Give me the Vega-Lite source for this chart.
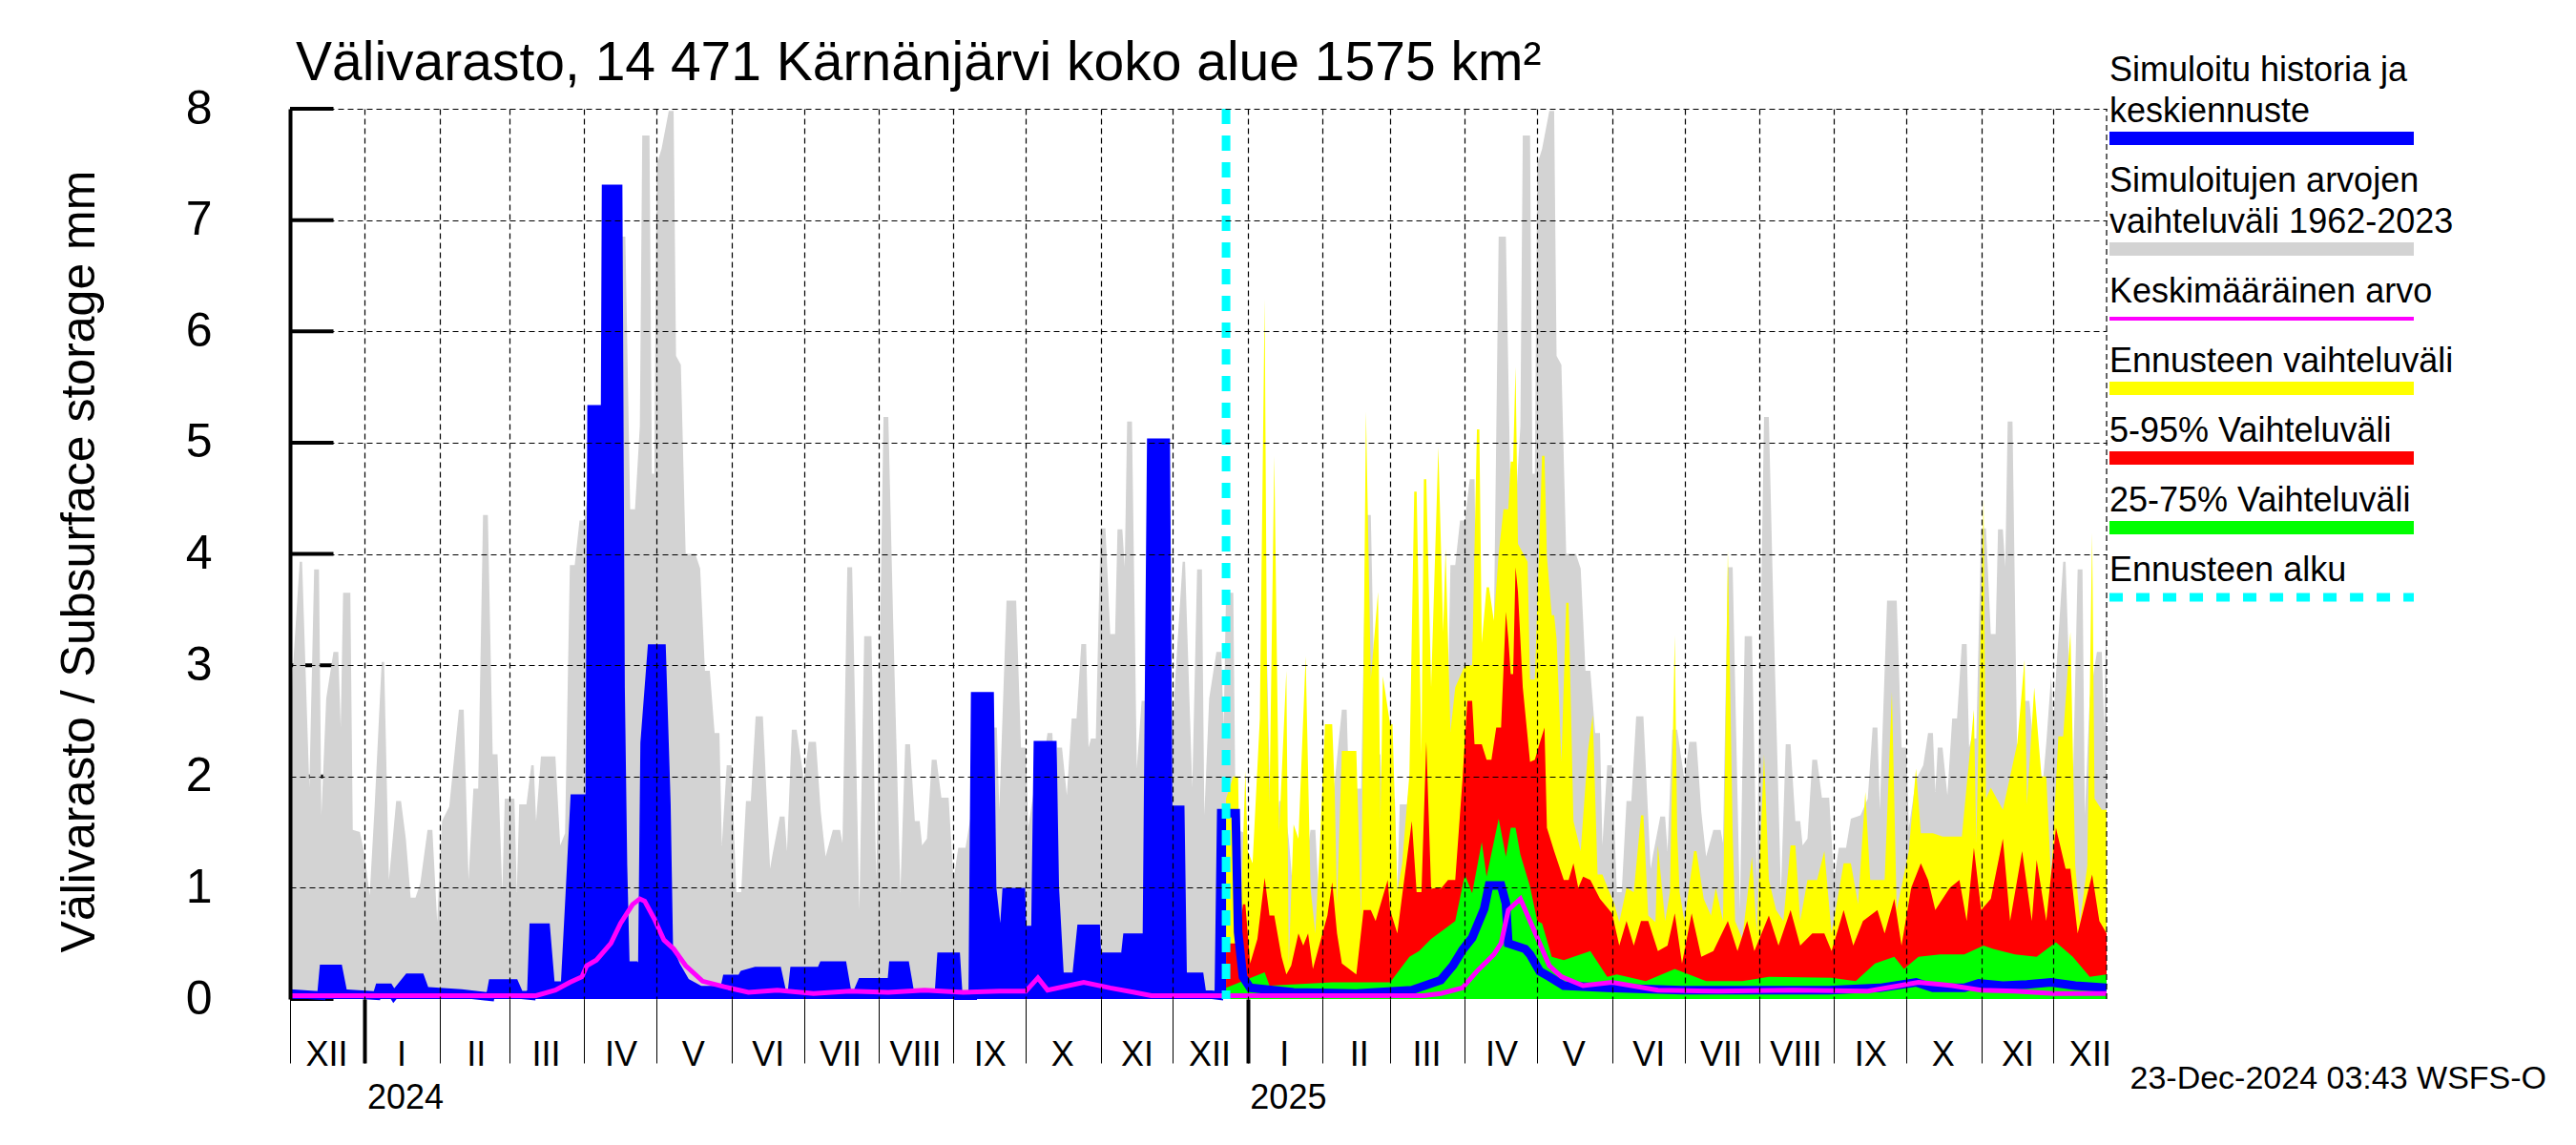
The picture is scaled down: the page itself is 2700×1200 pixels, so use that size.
{
"$schema": "https://vega.github.io/schema/vega-lite/v6.json",
"width": 1904, "height": 933,
"autosize": {"type": "none"},
"padding": {"left": 304, "top": 114, "right": 492, "bottom": 153},
"background": "white",
"title": {"text": "Välivarasto, 14 471 Kärnänjärvi koko alue 1575 km²", "anchor": "start", "frame": "group", "fontSize": 57, "fontWeight": "normal", "font": "Liberation Sans", "color": "black", "baseline": "alphabetic", "dx": 6, "offset": -52},
"config": {"view": {"stroke": null}, "font": "Liberation Sans"},
"datasets": {
"yt": [{"v":0},{"v":1},{"v":2},{"v":3},{"v":4},{"v":5},{"v":6},{"v":7},{"v":8}],
"gray": [
{"d":"2023-12-01","v":2.2},{"d":"2023-12-02","v":2.9},{"d":"2023-12-05","v":3.93},{"d":"2023-12-06","v":3.93},{"d":"2023-12-09","v":1.9},{"d":"2023-12-11","v":3.86},{"d":"2023-12-13","v":3.86},{"d":"2023-12-14","v":1.65},{"d":"2023-12-16","v":2.7},{"d":"2023-12-19","v":3.12},{"d":"2023-12-21","v":3.12},{"d":"2023-12-22","v":2.44},{"d":"2023-12-23","v":3.65},{"d":"2023-12-26","v":3.65},{"d":"2023-12-27","v":1.52},{"d":"2023-12-30","v":1.5},
{"d":"2024-01-01","v":1.28},{"d":"2024-01-03","v":0.93},{"d":"2024-01-05","v":1.7},{"d":"2024-01-08","v":3.03},{"d":"2024-01-09","v":3.03},{"d":"2024-01-11","v":1.07},{"d":"2024-01-14","v":1.78},{"d":"2024-01-16","v":1.78},{"d":"2024-01-18","v":1.44},{"d":"2024-01-20","v":0.91},{"d":"2024-01-22","v":0.91},{"d":"2024-01-24","v":1.04},{"d":"2024-01-27","v":1.52},{"d":"2024-01-29","v":1.52},{"d":"2024-01-31","v":0.69},
{"d":"2024-02-02","v":1.6},{"d":"2024-02-05","v":1.73},{"d":"2024-02-09","v":2.6},{"d":"2024-02-11","v":2.6},{"d":"2024-02-13","v":1.07},{"d":"2024-02-15","v":1.89},{"d":"2024-02-17","v":1.89},{"d":"2024-02-19","v":4.35},{"d":"2024-02-21","v":4.35},{"d":"2024-02-23","v":2.2},{"d":"2024-02-25","v":2.2},{"d":"2024-02-27","v":0.96},{"d":"2024-02-28","v":1.8},
{"d":"2024-03-03","v":1.8},{"d":"2024-03-04","v":0.96},{"d":"2024-03-05","v":1.75},{"d":"2024-03-08","v":1.75},{"d":"2024-03-10","v":2.1},{"d":"2024-03-11","v":2.1},{"d":"2024-03-12","v":1.6},{"d":"2024-03-14","v":2.18},{"d":"2024-03-20","v":2.18},{"d":"2024-03-22","v":1.38},{"d":"2024-03-24","v":1.49},{"d":"2024-03-26","v":3.9},{"d":"2024-03-28","v":3.9},{"d":"2024-03-30","v":4.3},
{"d":"2024-04-01","v":4.3},{"d":"2024-04-03","v":4.67},{"d":"2024-04-05","v":4.67},{"d":"2024-04-06","v":3.1},{"d":"2024-04-09","v":3.1},{"d":"2024-04-10","v":3.3},{"d":"2024-04-13","v":3.3},{"d":"2024-04-15","v":6.85},{"d":"2024-04-18","v":6.85},{"d":"2024-04-20","v":4.4},{"d":"2024-04-22","v":4.4},{"d":"2024-04-24","v":5.15},{"d":"2024-04-25","v":7.76},{"d":"2024-04-28","v":7.76},{"d":"2024-04-29","v":4.72},{"d":"2024-04-30","v":4.72},
{"d":"2024-05-01","v":7.5},{"d":"2024-05-03","v":7.64},{"d":"2024-05-06","v":7.98},{"d":"2024-05-08","v":7.98},{"d":"2024-05-09","v":5.78},{"d":"2024-05-11","v":5.7},{"d":"2024-05-13","v":4.0},{"d":"2024-05-17","v":4.0},{"d":"2024-05-19","v":3.87},{"d":"2024-05-21","v":2.95},{"d":"2024-05-23","v":2.95},{"d":"2024-05-25","v":2.39},{"d":"2024-05-27","v":2.39},{"d":"2024-05-28","v":1.38},{"d":"2024-05-30","v":2.1},
{"d":"2024-06-01","v":2.1},{"d":"2024-06-03","v":0.96},{"d":"2024-06-05","v":0.96},{"d":"2024-06-07","v":1.78},{"d":"2024-06-09","v":1.78},{"d":"2024-06-11","v":2.54},{"d":"2024-06-14","v":2.54},{"d":"2024-06-17","v":1.17},{"d":"2024-06-18","v":1.3},{"d":"2024-06-21","v":1.64},{"d":"2024-06-23","v":1.64},{"d":"2024-06-24","v":1.33},{"d":"2024-06-26","v":2.42},{"d":"2024-06-28","v":2.42},
{"d":"2024-07-01","v":1.97},{"d":"2024-07-03","v":2.31},{"d":"2024-07-06","v":2.31},{"d":"2024-07-08","v":1.68},{"d":"2024-07-10","v":1.28},{"d":"2024-07-13","v":1.52},{"d":"2024-07-16","v":1.52},{"d":"2024-07-17","v":1.4},{"d":"2024-07-19","v":3.88},{"d":"2024-07-21","v":3.88},{"d":"2024-07-24","v":0.8},{"d":"2024-07-26","v":3.26},{"d":"2024-07-29","v":3.26},{"d":"2024-07-31","v":1.07},
{"d":"2024-08-03","v":5.23},{"d":"2024-08-05","v":5.23},{"d":"2024-08-07","v":3.4},{"d":"2024-08-10","v":0.96},{"d":"2024-08-12","v":2.29},{"d":"2024-08-14","v":2.29},{"d":"2024-08-16","v":1.6},{"d":"2024-08-18","v":1.6},{"d":"2024-08-19","v":1.38},{"d":"2024-08-21","v":1.44},{"d":"2024-08-23","v":2.15},{"d":"2024-08-25","v":2.15},{"d":"2024-08-27","v":1.81},{"d":"2024-08-30","v":1.81},
{"d":"2024-09-01","v":1.07},{"d":"2024-09-03","v":1.36},{"d":"2024-09-06","v":1.36},{"d":"2024-09-08","v":1.62},{"d":"2024-09-12","v":1.65},{"d":"2024-09-15","v":1.8},{"d":"2024-09-17","v":2.44},{"d":"2024-09-19","v":2.44},{"d":"2024-09-20","v":1.7},{"d":"2024-09-23","v":3.58},{"d":"2024-09-27","v":3.58},{"d":"2024-09-29","v":2.26},
{"d":"2024-10-01","v":2.26},{"d":"2024-10-02","v":1.54},{"d":"2024-10-05","v":1.97},{"d":"2024-10-08","v":2.1},{"d":"2024-10-10","v":2.39},{"d":"2024-10-12","v":2.39},{"d":"2024-10-13","v":1.86},{"d":"2024-10-14","v":2.26},{"d":"2024-10-16","v":2.26},{"d":"2024-10-18","v":1.83},{"d":"2024-10-20","v":2.52},{"d":"2024-10-22","v":2.52},{"d":"2024-10-24","v":3.19},{"d":"2024-10-26","v":3.19},{"d":"2024-10-27","v":2.26},{"d":"2024-10-28","v":2.34},{"d":"2024-10-30","v":2.34},
{"d":"2024-11-01","v":4.23},{"d":"2024-11-03","v":4.23},{"d":"2024-11-05","v":3.28},{"d":"2024-11-07","v":3.28},{"d":"2024-11-08","v":4.22},{"d":"2024-11-10","v":4.22},{"d":"2024-11-11","v":3.88},{"d":"2024-11-12","v":5.19},{"d":"2024-11-14","v":5.19},{"d":"2024-11-16","v":2.07},{"d":"2024-11-18","v":2.68},{"d":"2024-11-21","v":2.68},{"d":"2024-11-23","v":2.2},{"d":"2024-11-26","v":1.8},{"d":"2024-11-28","v":2.3},{"d":"2024-11-30","v":2.9},
{"d":"2024-12-01","v":2.5},{"d":"2024-12-02","v":2.9},{"d":"2024-12-05","v":3.93},{"d":"2024-12-06","v":3.93},{"d":"2024-12-09","v":1.9},{"d":"2024-12-11","v":3.86},{"d":"2024-12-13","v":3.86},{"d":"2024-12-14","v":1.65},{"d":"2024-12-16","v":2.7},{"d":"2024-12-19","v":3.12},{"d":"2024-12-21","v":3.12},{"d":"2024-12-22","v":2.44},{"d":"2024-12-23","v":3.65},{"d":"2024-12-26","v":3.65},{"d":"2024-12-27","v":1.52},{"d":"2024-12-30","v":1.5},
{"d":"2025-01-01","v":1.28},{"d":"2025-01-03","v":0.93},{"d":"2025-01-05","v":1.7},{"d":"2025-01-08","v":3.03},{"d":"2025-01-09","v":3.03},{"d":"2025-01-11","v":1.07},{"d":"2025-01-14","v":1.78},{"d":"2025-01-16","v":1.78},{"d":"2025-01-18","v":1.44},{"d":"2025-01-20","v":0.91},{"d":"2025-01-22","v":0.91},{"d":"2025-01-24","v":1.04},{"d":"2025-01-27","v":1.52},{"d":"2025-01-29","v":1.52},{"d":"2025-01-31","v":0.69},
{"d":"2025-02-02","v":1.6},{"d":"2025-02-05","v":1.73},{"d":"2025-02-09","v":2.6},{"d":"2025-02-11","v":2.6},{"d":"2025-02-13","v":1.07},{"d":"2025-02-15","v":1.89},{"d":"2025-02-17","v":1.89},{"d":"2025-02-19","v":4.35},{"d":"2025-02-21","v":4.35},{"d":"2025-02-23","v":2.2},{"d":"2025-02-25","v":2.2},{"d":"2025-02-27","v":0.96},{"d":"2025-02-28","v":1.8},
{"d":"2025-03-03","v":1.8},{"d":"2025-03-04","v":0.96},{"d":"2025-03-05","v":1.75},{"d":"2025-03-08","v":1.75},{"d":"2025-03-10","v":2.1},{"d":"2025-03-11","v":2.1},{"d":"2025-03-12","v":1.6},{"d":"2025-03-14","v":2.18},{"d":"2025-03-20","v":2.18},{"d":"2025-03-22","v":1.38},{"d":"2025-03-24","v":1.49},{"d":"2025-03-26","v":3.9},{"d":"2025-03-28","v":3.9},{"d":"2025-03-30","v":4.3},
{"d":"2025-04-01","v":4.3},{"d":"2025-04-03","v":4.67},{"d":"2025-04-05","v":4.67},{"d":"2025-04-06","v":3.1},{"d":"2025-04-09","v":3.1},{"d":"2025-04-10","v":3.3},{"d":"2025-04-13","v":3.3},{"d":"2025-04-15","v":6.85},{"d":"2025-04-18","v":6.85},{"d":"2025-04-20","v":4.4},{"d":"2025-04-22","v":4.4},{"d":"2025-04-24","v":5.15},{"d":"2025-04-25","v":7.76},{"d":"2025-04-28","v":7.76},{"d":"2025-04-29","v":4.72},{"d":"2025-04-30","v":4.72},
{"d":"2025-05-01","v":7.5},{"d":"2025-05-03","v":7.64},{"d":"2025-05-06","v":7.98},{"d":"2025-05-08","v":7.98},{"d":"2025-05-09","v":5.78},{"d":"2025-05-11","v":5.7},{"d":"2025-05-13","v":4.0},{"d":"2025-05-17","v":4.0},{"d":"2025-05-19","v":3.87},{"d":"2025-05-21","v":2.95},{"d":"2025-05-23","v":2.95},{"d":"2025-05-25","v":2.39},{"d":"2025-05-27","v":2.39},{"d":"2025-05-28","v":1.38},{"d":"2025-05-30","v":2.1},
{"d":"2025-06-01","v":2.1},{"d":"2025-06-03","v":0.96},{"d":"2025-06-05","v":0.96},{"d":"2025-06-07","v":1.78},{"d":"2025-06-09","v":1.78},{"d":"2025-06-11","v":2.54},{"d":"2025-06-14","v":2.54},{"d":"2025-06-17","v":1.17},{"d":"2025-06-18","v":1.3},{"d":"2025-06-21","v":1.64},{"d":"2025-06-23","v":1.64},{"d":"2025-06-24","v":1.33},{"d":"2025-06-26","v":2.42},{"d":"2025-06-28","v":2.42},
{"d":"2025-07-01","v":1.97},{"d":"2025-07-03","v":2.31},{"d":"2025-07-06","v":2.31},{"d":"2025-07-08","v":1.68},{"d":"2025-07-10","v":1.28},{"d":"2025-07-13","v":1.52},{"d":"2025-07-16","v":1.52},{"d":"2025-07-17","v":1.4},{"d":"2025-07-19","v":3.88},{"d":"2025-07-21","v":3.88},{"d":"2025-07-24","v":0.8},{"d":"2025-07-26","v":3.26},{"d":"2025-07-29","v":3.26},{"d":"2025-07-31","v":1.07},
{"d":"2025-08-03","v":5.23},{"d":"2025-08-05","v":5.23},{"d":"2025-08-07","v":3.4},{"d":"2025-08-10","v":0.96},{"d":"2025-08-12","v":2.29},{"d":"2025-08-14","v":2.29},{"d":"2025-08-16","v":1.6},{"d":"2025-08-18","v":1.6},{"d":"2025-08-19","v":1.38},{"d":"2025-08-21","v":1.44},{"d":"2025-08-23","v":2.15},{"d":"2025-08-25","v":2.15},{"d":"2025-08-27","v":1.81},{"d":"2025-08-30","v":1.81},
{"d":"2025-09-01","v":1.07},{"d":"2025-09-03","v":1.36},{"d":"2025-09-06","v":1.36},{"d":"2025-09-08","v":1.62},{"d":"2025-09-12","v":1.65},{"d":"2025-09-15","v":1.8},{"d":"2025-09-17","v":2.44},{"d":"2025-09-19","v":2.44},{"d":"2025-09-20","v":1.7},{"d":"2025-09-23","v":3.58},{"d":"2025-09-27","v":3.58},{"d":"2025-09-29","v":2.26},
{"d":"2025-10-01","v":2.26},{"d":"2025-10-02","v":1.54},{"d":"2025-10-05","v":1.97},{"d":"2025-10-08","v":2.1},{"d":"2025-10-10","v":2.39},{"d":"2025-10-12","v":2.39},{"d":"2025-10-13","v":1.86},{"d":"2025-10-14","v":2.26},{"d":"2025-10-16","v":2.26},{"d":"2025-10-18","v":1.83},{"d":"2025-10-20","v":2.52},{"d":"2025-10-22","v":2.52},{"d":"2025-10-24","v":3.19},{"d":"2025-10-26","v":3.19},{"d":"2025-10-27","v":2.26},{"d":"2025-10-28","v":2.34},{"d":"2025-10-30","v":2.34},
{"d":"2025-11-01","v":4.23},{"d":"2025-11-03","v":4.23},{"d":"2025-11-05","v":3.28},{"d":"2025-11-07","v":3.28},{"d":"2025-11-08","v":4.22},{"d":"2025-11-10","v":4.22},{"d":"2025-11-11","v":3.88},{"d":"2025-11-12","v":5.19},{"d":"2025-11-14","v":5.19},{"d":"2025-11-16","v":2.07},{"d":"2025-11-18","v":2.68},{"d":"2025-11-21","v":2.68},{"d":"2025-11-23","v":2.2},{"d":"2025-11-26","v":1.8},{"d":"2025-11-28","v":2.3},{"d":"2025-11-30","v":2.9},
{"d":"2025-12-01","v":2.5},{"d":"2025-12-02","v":2.9},{"d":"2025-12-05","v":3.93},{"d":"2025-12-06","v":3.93},{"d":"2025-12-09","v":1.9},{"d":"2025-12-11","v":3.86},{"d":"2025-12-13","v":3.86},{"d":"2025-12-14","v":1.65},{"d":"2025-12-16","v":2.7},{"d":"2025-12-19","v":3.12},{"d":"2025-12-21","v":3.12},{"d":"2025-12-22","v":2.44},{"d":"2025-12-23","v":3.65}
],
"yel": [
{"d":"2024-12-23","v":1.8},{"d":"2024-12-26","v":2.0},{"d":"2024-12-28","v":2.0},{"d":"2024-12-29","v":0.7},{"d":"2024-12-31","v":2.05},
{"d":"2025-01-01","v":1.33},{"d":"2025-01-03","v":1.22},{"d":"2025-01-06","v":2.52},{"d":"2025-01-08","v":6.29},{"d":"2025-01-09","v":2.8},{"d":"2025-01-10","v":1.75},{"d":"2025-01-12","v":4.88},{"d":"2025-01-14","v":1.5},{"d":"2025-01-17","v":2.95},{"d":"2025-01-18","v":0.32},{"d":"2025-01-20","v":1.57},{"d":"2025-01-22","v":1.44},{"d":"2025-01-25","v":3.08},{"d":"2025-01-27","v":1.0},{"d":"2025-01-29","v":0.59},{"d":"2025-01-31","v":1.44},
{"d":"2025-02-02","v":2.47},{"d":"2025-02-05","v":2.47},{"d":"2025-02-06","v":1.9},{"d":"2025-02-07","v":0.85},{"d":"2025-02-09","v":2.23},{"d":"2025-02-15","v":2.23},{"d":"2025-02-17","v":0.7},{"d":"2025-02-19","v":5.28},{"d":"2025-02-21","v":2.87},{"d":"2025-02-24","v":3.66},{"d":"2025-02-25","v":1.6},{"d":"2025-02-26","v":2.9},
{"d":"2025-03-01","v":2.47},{"d":"2025-03-02","v":2.47},{"d":"2025-03-04","v":0.96},{"d":"2025-03-06","v":1.22},{"d":"2025-03-09","v":2.02},{"d":"2025-03-11","v":4.56},{"d":"2025-03-12","v":4.56},{"d":"2025-03-14","v":2.2},{"d":"2025-03-15","v":4.67},{"d":"2025-03-16","v":4.67},{"d":"2025-03-18","v":2.8},{"d":"2025-03-21","v":4.96},{"d":"2025-03-23","v":3.3},{"d":"2025-03-24","v":4.05},{"d":"2025-03-26","v":2.4},{"d":"2025-03-28","v":2.8},
{"d":"2025-04-01","v":3.0},{"d":"2025-04-04","v":3.0},{"d":"2025-04-06","v":5.12},{"d":"2025-04-07","v":5.12},{"d":"2025-04-08","v":3.2},{"d":"2025-04-10","v":3.7},{"d":"2025-04-11","v":3.7},{"d":"2025-04-13","v":3.4},{"d":"2025-04-15","v":4.0},{"d":"2025-04-17","v":4.4},{"d":"2025-04-19","v":4.4},{"d":"2025-04-20","v":4.83},{"d":"2025-04-21","v":4.83},{"d":"2025-04-22","v":5.68},{"d":"2025-04-23","v":4.09},{"d":"2025-04-27","v":3.93},{"d":"2025-04-28","v":2.87},{"d":"2025-04-30","v":2.87},
{"d":"2025-05-03","v":4.88},{"d":"2025-05-04","v":4.88},{"d":"2025-05-05","v":3.98},{"d":"2025-05-07","v":3.45},{"d":"2025-05-08","v":3.45},{"d":"2025-05-09","v":3.24},{"d":"2025-05-11","v":2.13},{"d":"2025-05-13","v":3.56},{"d":"2025-05-14","v":3.56},{"d":"2025-05-16","v":1.6},{"d":"2025-05-19","v":1.33},{"d":"2025-05-22","v":2.23},{"d":"2025-05-24","v":2.55},{"d":"2025-05-26","v":1.12},{"d":"2025-05-28","v":1.12},{"d":"2025-05-30","v":1.01},
{"d":"2025-06-02","v":0.85},{"d":"2025-06-04","v":0.69},{"d":"2025-06-07","v":1.0},{"d":"2025-06-10","v":0.96},{"d":"2025-06-13","v":1.65},{"d":"2025-06-14","v":1.65},{"d":"2025-06-16","v":0.75},{"d":"2025-06-19","v":0.69},{"d":"2025-06-20","v":1.38},{"d":"2025-06-23","v":0.7},{"d":"2025-06-25","v":0.96},{"d":"2025-06-27","v":3.27},{"d":"2025-06-28","v":1.5},{"d":"2025-06-29","v":0.96},
{"d":"2025-07-01","v":0.7},{"d":"2025-07-05","v":1.33},{"d":"2025-07-06","v":1.33},{"d":"2025-07-09","v":0.9},{"d":"2025-07-12","v":0.75},{"d":"2025-07-14","v":1.0},{"d":"2025-07-17","v":0.7},{"d":"2025-07-19","v":4.03},{"d":"2025-07-21","v":1.5},{"d":"2025-07-22","v":0.7},{"d":"2025-07-25","v":0.54},{"d":"2025-07-29","v":1.28},{"d":"2025-07-31","v":0.59},
{"d":"2025-08-03","v":2.2},{"d":"2025-08-05","v":1.07},{"d":"2025-08-08","v":0.8},{"d":"2025-08-11","v":0.7},{"d":"2025-08-14","v":1.38},{"d":"2025-08-16","v":1.38},{"d":"2025-08-18","v":0.7},{"d":"2025-08-21","v":1.07},{"d":"2025-08-25","v":1.07},{"d":"2025-08-28","v":1.33},{"d":"2025-08-31","v":0.59},
{"d":"2025-09-05","v":1.22},{"d":"2025-09-08","v":1.22},{"d":"2025-09-11","v":0.85},{"d":"2025-09-14","v":1.86},{"d":"2025-09-16","v":1.07},{"d":"2025-09-22","v":1.07},{"d":"2025-09-25","v":2.76},{"d":"2025-09-27","v":0.8},
{"d":"2025-10-02","v":1.33},{"d":"2025-10-05","v":2.07},{"d":"2025-10-07","v":1.49},{"d":"2025-10-12","v":1.49},{"d":"2025-10-16","v":1.46},{"d":"2025-10-24","v":1.46},{"d":"2025-10-29","v":2.6},{"d":"2025-10-30","v":1.4},
{"d":"2025-11-02","v":4.5},{"d":"2025-11-03","v":1.8},{"d":"2025-11-05","v":1.9},{"d":"2025-11-10","v":1.7},{"d":"2025-11-16","v":2.3},{"d":"2025-11-19","v":3.05},{"d":"2025-11-20","v":1.75},{"d":"2025-11-23","v":2.8},{"d":"2025-11-26","v":2.0},{"d":"2025-11-28","v":2.0},{"d":"2025-11-30","v":1.07},
{"d":"2025-12-03","v":2.36},{"d":"2025-12-05","v":2.36},{"d":"2025-12-08","v":3.3},{"d":"2025-12-10","v":1.2},{"d":"2025-12-12","v":0.69},{"d":"2025-12-15","v":1.2},{"d":"2025-12-17","v":4.19},{"d":"2025-12-18","v":1.8},{"d":"2025-12-21","v":1.7},{"d":"2025-12-23","v":1.7}
],
"red": [
{"d":"2024-12-23","v":0.5},{"d":"2024-12-28","v":0.5},{"d":"2024-12-30","v":0.85},{"d":"2024-12-31","v":0.85},
{"d":"2025-01-02","v":0.32},{"d":"2025-01-05","v":0.54},{"d":"2025-01-08","v":1.09},{"d":"2025-01-10","v":0.75},{"d":"2025-01-12","v":0.75},{"d":"2025-01-15","v":0.38},{"d":"2025-01-17","v":0.22},{"d":"2025-01-19","v":0.3},{"d":"2025-01-22","v":0.59},{"d":"2025-01-24","v":0.48},{"d":"2025-01-26","v":0.59},{"d":"2025-01-28","v":0.27},{"d":"2025-01-30","v":0.43},
{"d":"2025-02-03","v":0.75},{"d":"2025-02-05","v":1.05},{"d":"2025-02-07","v":0.59},{"d":"2025-02-09","v":0.32},{"d":"2025-02-12","v":0.27},{"d":"2025-02-15","v":0.22},{"d":"2025-02-18","v":0.8},{"d":"2025-02-21","v":0.8},{"d":"2025-02-23","v":0.7},{"d":"2025-02-28","v":1.07},
{"d":"2025-03-01","v":0.8},{"d":"2025-03-04","v":0.59},{"d":"2025-03-06","v":0.93},{"d":"2025-03-10","v":1.6},{"d":"2025-03-12","v":0.96},{"d":"2025-03-14","v":0.96},{"d":"2025-03-16","v":2.31},{"d":"2025-03-18","v":0.99},{"d":"2025-03-20","v":1.0},{"d":"2025-03-22","v":0.99},{"d":"2025-03-25","v":1.07},{"d":"2025-03-28","v":1.07},{"d":"2025-03-31","v":1.97},
{"d":"2025-04-02","v":2.68},{"d":"2025-04-04","v":2.68},{"d":"2025-04-05","v":2.29},{"d":"2025-04-08","v":2.29},{"d":"2025-04-10","v":2.15},{"d":"2025-04-12","v":2.15},{"d":"2025-04-14","v":2.44},{"d":"2025-04-16","v":2.44},{"d":"2025-04-18","v":3.48},{"d":"2025-04-19","v":3.24},{"d":"2025-04-20","v":2.92},{"d":"2025-04-21","v":2.92},{"d":"2025-04-22","v":3.88},{"d":"2025-04-23","v":3.66},{"d":"2025-04-25","v":2.8},{"d":"2025-04-28","v":2.13},{"d":"2025-04-30","v":2.15},
{"d":"2025-05-02","v":2.3},{"d":"2025-05-04","v":2.44},{"d":"2025-05-05","v":1.54},{"d":"2025-05-08","v":1.33},{"d":"2025-05-12","v":1.07},{"d":"2025-05-14","v":1.07},{"d":"2025-05-16","v":1.22},{"d":"2025-05-18","v":1.0},{"d":"2025-05-20","v":1.1},{"d":"2025-05-23","v":1.07},{"d":"2025-05-27","v":0.9},
{"d":"2025-06-01","v":0.77},{"d":"2025-06-04","v":0.48},{"d":"2025-06-07","v":0.7},{"d":"2025-06-10","v":0.48},{"d":"2025-06-13","v":0.7},{"d":"2025-06-16","v":0.7},{"d":"2025-06-20","v":0.43},{"d":"2025-06-24","v":0.48},{"d":"2025-06-27","v":0.77},{"d":"2025-06-30","v":0.32},
{"d":"2025-07-04","v":0.77},{"d":"2025-07-08","v":0.38},{"d":"2025-07-13","v":0.43},{"d":"2025-07-19","v":0.7},{"d":"2025-07-23","v":0.43},{"d":"2025-07-27","v":0.7},{"d":"2025-07-30","v":0.43},
{"d":"2025-08-05","v":0.75},{"d":"2025-08-09","v":0.48},{"d":"2025-08-14","v":0.8},{"d":"2025-08-18","v":0.48},{"d":"2025-08-23","v":0.59},{"d":"2025-08-28","v":0.59},{"d":"2025-08-31","v":0.43},
{"d":"2025-09-05","v":0.8},{"d":"2025-09-09","v":0.48},{"d":"2025-09-13","v":0.7},{"d":"2025-09-19","v":0.8},{"d":"2025-09-22","v":0.59},{"d":"2025-09-26","v":0.9},{"d":"2025-09-29","v":0.48},
{"d":"2025-10-03","v":1.0},{"d":"2025-10-07","v":1.22},{"d":"2025-10-10","v":1.07},{"d":"2025-10-13","v":0.8},{"d":"2025-10-19","v":1.0},{"d":"2025-10-23","v":1.07},{"d":"2025-10-26","v":0.7},{"d":"2025-10-29","v":1.36},
{"d":"2025-11-01","v":0.8},{"d":"2025-11-05","v":0.9},{"d":"2025-11-10","v":1.44},{"d":"2025-11-13","v":0.7},{"d":"2025-11-18","v":1.33},{"d":"2025-11-22","v":0.7},{"d":"2025-11-24","v":1.25},{"d":"2025-11-28","v":0.7},
{"d":"2025-12-02","v":1.54},{"d":"2025-12-06","v":1.17},{"d":"2025-12-08","v":1.17},{"d":"2025-12-11","v":0.59},{"d":"2025-12-17","v":1.12},{"d":"2025-12-20","v":0.7},{"d":"2025-12-23","v":0.59}
],
"grn": [
{"d":"2024-12-23","v":0.1},{"d":"2025-01-08","v":0.24},{"d":"2025-01-10","v":0.12},{"d":"2025-02-05","v":0.15},{"d":"2025-03-01","v":0.15},{"d":"2025-03-09","v":0.38},{"d":"2025-03-13","v":0.43},{"d":"2025-03-18","v":0.54},{"d":"2025-03-23","v":0.62},{"d":"2025-03-28","v":0.7},
{"d":"2025-04-01","v":1.12},{"d":"2025-04-04","v":0.95},{"d":"2025-04-08","v":1.41},{"d":"2025-04-10","v":1.1},{"d":"2025-04-15","v":1.62},{"d":"2025-04-18","v":1.28},{"d":"2025-04-20","v":1.54},{"d":"2025-04-22","v":1.54},{"d":"2025-04-24","v":1.3},{"d":"2025-04-28","v":1.01},
{"d":"2025-05-01","v":0.7},{"d":"2025-05-03","v":0.68},{"d":"2025-05-07","v":0.38},{"d":"2025-05-12","v":0.35},{"d":"2025-05-23","v":0.43},{"d":"2025-05-30","v":0.2},{"d":"2025-06-03","v":0.22},{"d":"2025-06-15","v":0.16},{"d":"2025-06-27","v":0.27},{"d":"2025-07-10","v":0.16},{"d":"2025-07-25","v":0.16},{"d":"2025-08-05","v":0.2},{"d":"2025-08-31","v":0.19},
{"d":"2025-09-10","v":0.16},{"d":"2025-09-18","v":0.32},{"d":"2025-09-26","v":0.38},{"d":"2025-09-30","v":0.27},{"d":"2025-10-06","v":0.38},{"d":"2025-10-15","v":0.4},{"d":"2025-10-25","v":0.4},{"d":"2025-11-02","v":0.48},{"d":"2025-11-06","v":0.45},{"d":"2025-11-15","v":0.4},{"d":"2025-11-24","v":0.38},{"d":"2025-12-02","v":0.51},{"d":"2025-12-09","v":0.38},{"d":"2025-12-16","v":0.2},{"d":"2025-12-23","v":0.22}
],
"blueh": [
{"d":"2023-12-01","v":0.05},{"d":"2023-12-14","v":0.03},{"d":"2023-12-15","v":0.27},{"d":"2023-12-21","v":0.27},{"d":"2023-12-23","v":0.05},
{"d":"2024-01-06","v":0.03},{"d":"2024-01-07","v":0.1},{"d":"2024-01-11","v":0.1},{"d":"2024-01-13","v":0.03},{"d":"2024-01-19","v":0.19},{"d":"2024-01-24","v":0.19},{"d":"2024-01-26","v":0.07},{"d":"2024-02-10","v":0.05},{"d":"2024-02-22","v":0.02},{"d":"2024-02-23","v":0.14},{"d":"2024-03-03","v":0.14},{"d":"2024-03-05","v":0.04},{"d":"2024-03-10","v":0.03},{"d":"2024-03-11","v":0.64},{"d":"2024-03-16","v":0.64},{"d":"2024-03-18","v":0.12},{"d":"2024-03-24","v":0.12},{"d":"2024-03-26","v":0.95},{"d":"2024-03-28","v":1.8},{"d":"2024-04-02","v":1.8},{"d":"2024-04-03","v":0.6},
{"d":"2024-04-04","v":5.3},{"d":"2024-04-08","v":5.3},{"d":"2024-04-09","v":2.2},{"d":"2024-04-10","v":7.28},{"d":"2024-04-15","v":7.28},{"d":"2024-04-16","v":2.8},{"d":"2024-04-17","v":1.2},{"d":"2024-04-18","v":0.3},{"d":"2024-04-22","v":0.3},{"d":"2024-04-25","v":0.2},{"d":"2024-04-26","v":2.3},{"d":"2024-04-29","v":3.15},{"d":"2024-05-03","v":3.15},{"d":"2024-05-05","v":1.75},{"d":"2024-05-06","v":0.45},{"d":"2024-05-09","v":0.3},{"d":"2024-05-13","v":0.15},{"d":"2024-05-19","v":0.08},{"d":"2024-05-29","v":0.08},
{"d":"2024-05-30","v":0.18},{"d":"2024-06-05","v":0.18},{"d":"2024-06-06","v":0.22},{"d":"2024-06-11","v":0.25},{"d":"2024-06-20","v":0.25},{"d":"2024-06-22","v":0.05},{"d":"2024-06-26","v":0.05},{"d":"2024-06-27","v":0.25},{"d":"2024-07-08","v":0.25},{"d":"2024-07-09","v":0.3},{"d":"2024-07-17","v":0.3},{"d":"2024-07-19","v":0.05},{"d":"2024-07-23","v":0.05},{"d":"2024-07-25","v":0.15},{"d":"2024-08-04","v":0.15},{"d":"2024-08-06","v":0.05},{"d":"2024-08-07","v":0.3},{"d":"2024-08-12","v":0.3},{"d":"2024-08-14","v":0.05},{"d":"2024-08-26","v":0.05},{"d":"2024-08-27","v":0.38},{"d":"2024-09-02","v":0.38},{"d":"2024-09-03","v":0.03},{"d":"2024-09-09","v":0.03},
{"d":"2024-09-10","v":2.72},{"d":"2024-09-16","v":2.72},{"d":"2024-09-17","v":1.0},{"d":"2024-09-19","v":0.61},{"d":"2024-09-22","v":0.61},{"d":"2024-09-23","v":0.96},{"d":"2024-09-29","v":0.96},{"d":"2024-09-30","v":0.1},{"d":"2024-10-01","v":0.1},{"d":"2024-10-02","v":0.62},{"d":"2024-10-05","v":0.62},{"d":"2024-10-06","v":2.28},{"d":"2024-10-12","v":2.28},{"d":"2024-10-13","v":1.0},{"d":"2024-10-15","v":0.2},{"d":"2024-10-22","v":0.2},{"d":"2024-10-24","v":0.63},{"d":"2024-10-30","v":0.63},{"d":"2024-10-31","v":0.1},
{"d":"2024-11-02","v":0.38},{"d":"2024-11-08","v":0.38},{"d":"2024-11-10","v":0.15},{"d":"2024-11-12","v":0.55},{"d":"2024-11-18","v":0.55},{"d":"2024-11-20","v":0.05},{"d":"2024-11-22","v":5.0},{"d":"2024-11-28","v":5.0},{"d":"2024-11-29","v":1.7},{"d":"2024-12-04","v":1.7},{"d":"2024-12-05","v":0.2},{"d":"2024-12-12","v":0.2},{"d":"2024-12-13","v":0.05},{"d":"2024-12-20","v":0.03},{"d":"2024-12-21","v":1.67},{"d":"2024-12-23","v":1.67}
],
"blue": [
{"d":"2023-12-01","v":0.05},{"d":"2023-12-14","v":0.03},{"d":"2023-12-15","v":0.27},{"d":"2023-12-21","v":0.27},{"d":"2023-12-23","v":0.05},
{"d":"2024-01-06","v":0.03},{"d":"2024-01-07","v":0.1},{"d":"2024-01-11","v":0.1},{"d":"2024-01-13","v":0.03},{"d":"2024-01-19","v":0.19},{"d":"2024-01-24","v":0.19},{"d":"2024-01-26","v":0.07},{"d":"2024-02-10","v":0.05},{"d":"2024-02-22","v":0.02},{"d":"2024-02-23","v":0.14},{"d":"2024-03-03","v":0.14},{"d":"2024-03-05","v":0.04},{"d":"2024-03-10","v":0.03},{"d":"2024-03-11","v":0.64},{"d":"2024-03-16","v":0.64},{"d":"2024-03-18","v":0.12},{"d":"2024-03-24","v":0.12},{"d":"2024-03-26","v":0.95},{"d":"2024-03-28","v":1.8},{"d":"2024-04-02","v":1.8},{"d":"2024-04-03","v":0.6},
{"d":"2024-04-04","v":5.3},{"d":"2024-04-08","v":5.3},{"d":"2024-04-09","v":2.2},{"d":"2024-04-10","v":7.28},{"d":"2024-04-15","v":7.28},{"d":"2024-04-16","v":2.8},{"d":"2024-04-17","v":1.2},{"d":"2024-04-18","v":0.3},{"d":"2024-04-22","v":0.3},{"d":"2024-04-25","v":0.2},{"d":"2024-04-26","v":2.3},{"d":"2024-04-29","v":3.15},{"d":"2024-05-03","v":3.15},{"d":"2024-05-05","v":1.75},{"d":"2024-05-06","v":0.45},{"d":"2024-05-09","v":0.3},{"d":"2024-05-13","v":0.15},{"d":"2024-05-19","v":0.08},{"d":"2024-05-29","v":0.08},
{"d":"2024-05-30","v":0.18},{"d":"2024-06-05","v":0.18},{"d":"2024-06-06","v":0.22},{"d":"2024-06-11","v":0.25},{"d":"2024-06-20","v":0.25},{"d":"2024-06-22","v":0.05},{"d":"2024-06-26","v":0.05},{"d":"2024-06-27","v":0.25},{"d":"2024-07-08","v":0.25},{"d":"2024-07-09","v":0.3},{"d":"2024-07-17","v":0.3},{"d":"2024-07-19","v":0.05},{"d":"2024-07-23","v":0.05},{"d":"2024-07-25","v":0.15},{"d":"2024-08-04","v":0.15},{"d":"2024-08-06","v":0.05},{"d":"2024-08-07","v":0.3},{"d":"2024-08-12","v":0.3},{"d":"2024-08-14","v":0.05},{"d":"2024-08-26","v":0.05},{"d":"2024-08-27","v":0.38},{"d":"2024-09-02","v":0.38},{"d":"2024-09-03","v":0.03},{"d":"2024-09-09","v":0.03},
{"d":"2024-09-10","v":2.72},{"d":"2024-09-16","v":2.72},{"d":"2024-09-17","v":1.0},{"d":"2024-09-19","v":0.61},{"d":"2024-09-22","v":0.61},{"d":"2024-09-23","v":0.96},{"d":"2024-09-29","v":0.96},{"d":"2024-09-30","v":0.1},{"d":"2024-10-01","v":0.1},{"d":"2024-10-02","v":0.62},{"d":"2024-10-05","v":0.62},{"d":"2024-10-06","v":2.28},{"d":"2024-10-12","v":2.28},{"d":"2024-10-13","v":1.0},{"d":"2024-10-15","v":0.2},{"d":"2024-10-22","v":0.2},{"d":"2024-10-24","v":0.63},{"d":"2024-10-30","v":0.63},{"d":"2024-10-31","v":0.1},
{"d":"2024-11-02","v":0.38},{"d":"2024-11-08","v":0.38},{"d":"2024-11-10","v":0.15},{"d":"2024-11-12","v":0.55},{"d":"2024-11-18","v":0.55},{"d":"2024-11-20","v":0.05},{"d":"2024-11-22","v":5.0},{"d":"2024-11-28","v":5.0},{"d":"2024-11-29","v":1.7},{"d":"2024-12-04","v":1.7},{"d":"2024-12-05","v":0.2},{"d":"2024-12-12","v":0.2},{"d":"2024-12-13","v":0.05},{"d":"2024-12-20","v":0.03},{"d":"2024-12-21","v":1.67},{"d":"2024-12-27","v":1.67},{"d":"2024-12-28","v":0.6},{"d":"2024-12-30","v":0.2},
{"d":"2025-01-02","v":0.1},{"d":"2025-01-20","v":0.06},{"d":"2025-02-15","v":0.05},{"d":"2025-03-10","v":0.08},{"d":"2025-03-22","v":0.17},{"d":"2025-03-27","v":0.3},{"d":"2025-03-31","v":0.44},{"d":"2025-04-04","v":0.55},{"d":"2025-04-09","v":0.81},{"d":"2025-04-11","v":1.02},{"d":"2025-04-16","v":1.02},{"d":"2025-04-18","v":0.86},{"d":"2025-04-19","v":0.5},{"d":"2025-04-26","v":0.45},{"d":"2025-04-28","v":0.4},{"d":"2025-05-02","v":0.25},{"d":"2025-05-06","v":0.2},{"d":"2025-05-12","v":0.12},{"d":"2025-05-30","v":0.1},{"d":"2025-06-30","v":0.08},{"d":"2025-07-30","v":0.08},{"d":"2025-08-30","v":0.08},{"d":"2025-09-20","v":0.1},{"d":"2025-10-05","v":0.15},{"d":"2025-10-12","v":0.1},{"d":"2025-10-25","v":0.1},{"d":"2025-10-31","v":0.14},{"d":"2025-11-10","v":0.12},{"d":"2025-11-20","v":0.13},{"d":"2025-11-30","v":0.15},{"d":"2025-12-10","v":0.12},{"d":"2025-12-23","v":0.1}
],
"mag": [
{"d":"2023-12-01","v":0.03},{"d":"2024-03-12","v":0.03},{"d":"2024-03-20","v":0.08},{"d":"2024-03-26","v":0.15},{"d":"2024-03-31","v":0.2},{"d":"2024-04-02","v":0.3},{"d":"2024-04-06","v":0.35},{"d":"2024-04-12","v":0.5},{"d":"2024-04-16","v":0.68},{"d":"2024-04-21","v":0.85},{"d":"2024-04-24","v":0.9},{"d":"2024-04-26","v":0.88},{"d":"2024-04-30","v":0.72},{"d":"2024-05-04","v":0.53},{"d":"2024-05-08","v":0.45},{"d":"2024-05-13","v":0.3},{"d":"2024-05-20","v":0.16},{"d":"2024-05-29","v":0.11},{"d":"2024-06-08","v":0.06},{"d":"2024-06-20","v":0.08},{"d":"2024-07-05","v":0.05},{"d":"2024-07-20","v":0.07},{"d":"2024-08-05","v":0.06},{"d":"2024-08-20","v":0.08},{"d":"2024-09-05","v":0.06},{"d":"2024-09-20","v":0.07},{"d":"2024-10-01","v":0.07},{"d":"2024-10-06","v":0.19},{"d":"2024-10-10","v":0.08},{"d":"2024-10-25","v":0.15},{"d":"2024-11-05","v":0.1},{"d":"2024-11-15","v":0.06},{"d":"2024-11-22","v":0.03},
{"d":"2025-03-15","v":0.03},{"d":"2025-03-22","v":0.05},{"d":"2025-03-31","v":0.1},{"d":"2025-04-06","v":0.25},{"d":"2025-04-13","v":0.4},{"d":"2025-04-16","v":0.5},{"d":"2025-04-19","v":0.8},{"d":"2025-04-24","v":0.9},{"d":"2025-04-27","v":0.75},{"d":"2025-05-01","v":0.55},{"d":"2025-05-06","v":0.3},{"d":"2025-05-11","v":0.2},{"d":"2025-05-20","v":0.12},{"d":"2025-06-01","v":0.15},{"d":"2025-06-20","v":0.08},{"d":"2025-07-15","v":0.07},{"d":"2025-08-15","v":0.08},{"d":"2025-09-15","v":0.07},{"d":"2025-10-06","v":0.15},{"d":"2025-10-20","v":0.12},{"d":"2025-11-01","v":0.08},{"d":"2025-11-15","v":0.07},{"d":"2025-12-01","v":0.05},{"d":"2025-12-23","v":0.05}
]
},
"resolve": {"axis": {"x": "independent"}},
"layer": [
{"data": {"name": "yt"}, "mark": {"type": "rule", "color": "black", "strokeWidth": 4},
 "encoding": {
  "x": {"datum": {"year": 2023, "month": 12, "date": 1, "utc": true}, "type": "temporal", "scale": {"type": "utc", "domain": [{"year": 2023, "month": 12, "date": 1, "utc": true}, {"year": 2025, "month": 12, "date": 23, "utc": true}]}, "axis": null},
  "x2": {"datum": {"year": 2023, "month": 12, "date": 19, "utc": true}},
  "y": {"field": "v", "type": "quantitative", "scale": {"domain": [0, 8], "nice": false}}
 }},
{"data": {"name": "gray"}, "mark": {"type": "area"},
 "encoding": {
  "x": {"field": "d", "type": "temporal", "scale": {"type": "utc", "domain": [{"year": 2023, "month": 12, "date": 1, "utc": true}, {"year": 2025, "month": 12, "date": 23, "utc": true}]},
   "axis": {"orient": "bottom", "tickCount": {"interval": "month", "step": 1}, "labelExpr": "['I','II','III','IV','V','VI','VII','VIII','IX','X','XI','XII'][utcmonth(datum.value)]", "labelAlign": "center", "labelBaseline": "top", "labelOffset": 38, "labelFontSize": 36, "labelFont": "Liberation Sans", "labelColor": "black", "labelPadding": -26, "tickSize": 67, "tickWidth": 1, "tickColor": "black", "domain": false, "grid": true, "gridColor": "black", "gridDash": [6, 4], "gridWidth": 1.2, "labelFlush": false, "labelOverlap": false, "labelBound": false, "title": "23-Dec-2024 03:43 WSFS-O", "titleFontSize": 34, "titleFont": "Liberation Sans", "titleFontWeight": "normal", "titleColor": "black", "titleX": 1928, "titleY": 83, "titleAlign": "left", "titleBaseline": "middle", "titleAngle": 0, "zindex": 1}},
  "y": {"field": "v", "type": "quantitative", "scale": {"domain": [0, 8], "nice": false},
   "axis": {"values": [0, 1, 2, 3, 4, 5, 6, 7, 8], "format": "d", "ticks": false, "domain": true, "domainWidth": 4, "domainColor": "black", "grid": true, "gridColor": "black", "gridDash": [6, 4], "gridWidth": 1.2, "gridOpacity": {"condition": {"test": "datum.value == 0", "value": 0}, "value": 1}, "labelFontSize": 50, "labelFont": "Liberation Sans", "labelColor": "black", "labelPadding": 82, "title": "Välivarasto / Subsurface storage mm", "titleFontSize": 50, "titleFont": "Liberation Sans", "titleFontWeight": "normal", "titleColor": "black", "titleX": -221, "titleY": 474, "titleAngle": -90, "titleAlign": "center", "titleBaseline": "middle", "zindex": 1}},
  "color": {"datum": "Simuloitujen arvojen|vaihteluväli 1962-2023", "type": "nominal",
   "scale": {"domain": ["Simuloitu historia ja|keskiennuste", "Simuloitujen arvojen|vaihteluväli 1962-2023", "Keskimääräinen arvo", "Ennusteen vaihteluväli", "5-95% Vaihteluväli", "25-75% Vaihteluväli", "Ennusteen alku"], "range": ["#0000ff", "#d3d3d3", "#ff00ff", "#ffff00", "#ff0000", "#00ff00", "#00ffff"]},
   "legend": {"orient": "none", "legendX": 1907, "legendY": 13, "direction": "vertical", "title": null, "padding": 0, "symbolType": "M-1,-0.0439H1V0.0439H-1Z", "symbolSize": 101761, "symbolOffset": 141.5, "labelOffset": -177.5, "labelFontSize": 36, "labelFont": "Liberation Sans", "labelColor": "black", "labelBaseline": "alphabetic", "labelLimit": 1000, "labelExpr": "split(datum.label, '|')", "rowPadding": 19,
    "encode": {"symbols": {"update": {"fill": {"scale": "color", "field": "value"}, "stroke": {"value": "transparent"}, "strokeWidth": {"signal": "1 ? 0 : 0"}, "opacity": {"value": 1}, "fillOpacity": {"value": 1},
      "shape": {"signal": "datum.value === 'Keskimääräinen arvo' ? 'M-1,-0.0125H1V0.0125H-1ZM-1,0.0439' : datum.value === 'Ennusteen alku' ? 'M-1,-0.0282H-0.9122V0.0282H-1ZM-0.8244,-0.0282H-0.7366V0.0282H-0.8244ZM-0.6488,-0.0282H-0.561V0.0282H-0.6488ZM-0.4732,-0.0282H-0.3854V0.0282H-0.4732ZM-0.2976,-0.0282H-0.2098V0.0282H-0.2976ZM-0.122,-0.0282H-0.0342V0.0282H-0.122ZM0.0536,-0.0282H0.1414V0.0282H0.0536ZM0.2292,-0.0282H0.317V0.0282H0.2292ZM0.4048,-0.0282H0.4926V0.0282H0.4048ZM0.5804,-0.0282H0.6682V0.0282H0.5804ZM0.756,-0.0282H0.8438V0.0282H0.756ZM0.9316,-0.0282H1V0.0282H0.9316ZM-1,0.0439' : 'M-1,-0.0439H1V0.0439H-1Z'"}}},
               "labels": {"update": {"lineHeight": {"value": 43}, "dy": {"signal": "indexof(datum.value, '|') >= 0 ? -60 : -17"}}}}}}
 }},
{"data": {"name": "yel"}, "mark": {"type": "area"},
 "encoding": {
  "x": {"field": "d", "type": "temporal", "scale": {"type": "utc", "domain": [{"year": 2023, "month": 12, "date": 1, "utc": true}, {"year": 2025, "month": 12, "date": 23, "utc": true}]}, "axis": null},
  "y": {"field": "v", "type": "quantitative", "scale": {"domain": [0, 8], "nice": false}},
  "color": {"datum": "Ennusteen vaihteluväli", "type": "nominal"}
 }},
{"data": {"name": "red"}, "mark": {"type": "area"},
 "encoding": {
  "x": {"field": "d", "type": "temporal", "scale": {"type": "utc", "domain": [{"year": 2023, "month": 12, "date": 1, "utc": true}, {"year": 2025, "month": 12, "date": 23, "utc": true}]}, "axis": null},
  "y": {"field": "v", "type": "quantitative", "scale": {"domain": [0, 8], "nice": false}},
  "color": {"datum": "5-95% Vaihteluväli", "type": "nominal"}
 }},
{"data": {"name": "grn"}, "mark": {"type": "area"},
 "encoding": {
  "x": {"field": "d", "type": "temporal", "scale": {"type": "utc", "domain": [{"year": 2023, "month": 12, "date": 1, "utc": true}, {"year": 2025, "month": 12, "date": 23, "utc": true}]}, "axis": null},
  "y": {"field": "v", "type": "quantitative", "scale": {"domain": [0, 8], "nice": false}},
  "color": {"datum": "25-75% Vaihteluväli", "type": "nominal"}
 }},
{"data": {"name": "blueh"}, "mark": {"type": "area"},
 "encoding": {
  "x": {"field": "d", "type": "temporal", "scale": {"type": "utc", "domain": [{"year": 2023, "month": 12, "date": 1, "utc": true}, {"year": 2025, "month": 12, "date": 23, "utc": true}]}, "axis": null},
  "y": {"field": "v", "type": "quantitative", "scale": {"domain": [0, 8], "nice": false}},
  "color": {"datum": "Simuloitu historia ja|keskiennuste", "type": "nominal"}
 }},
{"data": {"name": "blue"}, "mark": {"type": "line", "strokeWidth": 9, "strokeJoin": "miter", "strokeCap": "butt"},
 "encoding": {
  "x": {"field": "d", "type": "temporal", "scale": {"type": "utc", "domain": [{"year": 2023, "month": 12, "date": 1, "utc": true}, {"year": 2025, "month": 12, "date": 23, "utc": true}]}, "axis": null},
  "y": {"field": "v", "type": "quantitative", "scale": {"domain": [0, 8], "nice": false}},
  "color": {"datum": "Simuloitu historia ja|keskiennuste", "type": "nominal"}
 }},
{"data": {"name": "mag"}, "mark": {"type": "line", "strokeWidth": 5},
 "encoding": {
  "x": {"field": "d", "type": "temporal", "scale": {"type": "utc", "domain": [{"year": 2023, "month": 12, "date": 1, "utc": true}, {"year": 2025, "month": 12, "date": 23, "utc": true}]}, "axis": null},
  "y": {"field": "v", "type": "quantitative", "scale": {"domain": [0, 8], "nice": false}},
  "color": {"datum": "Keskimääräinen arvo", "type": "nominal"}
 }},
{"data": {"values": [{}]}, "mark": {"type": "rule", "strokeWidth": 9, "strokeDash": [16, 12], "strokeCap": "butt"},
 "encoding": {
  "x": {"datum": {"year": 2024, "month": 12, "date": 23, "utc": true}, "type": "temporal", "scale": {"type": "utc", "domain": [{"year": 2023, "month": 12, "date": 1, "utc": true}, {"year": 2025, "month": 12, "date": 23, "utc": true}]},
   "axis": {"orient": "bottom", "values": [{"year": 2024, "month": 1, "date": 1, "utc": true}, {"year": 2025, "month": 1, "date": 1, "utc": true}], "labelExpr": "utcFormat(datum.value, '%Y')", "tickWidth": 4, "tickSize": 67, "tickColor": "black", "labelAlign": "left", "labelOffset": 2, "labelFontSize": 36, "labelFont": "Liberation Sans", "labelColor": "black", "labelBaseline": "top", "labelPadding": 19, "grid": false, "domain": false, "title": null, "labelFlush": false, "labelOverlap": false, "labelBound": false, "zindex": 1}},
  "y": {"datum": 8, "type": "quantitative", "scale": {"domain": [0, 8], "nice": false}},
  "y2": {"datum": 0},
  "color": {"datum": "Ennusteen alku", "type": "nominal"}
 }},
{"data": {"values": [{}]}, "mark": {"type": "rule", "strokeWidth": 1.2, "strokeDash": [6, 4], "color": "black"},
 "encoding": {
  "x": {"datum": {"year": 2025, "month": 12, "date": 23, "utc": true}, "type": "temporal", "scale": {"type": "utc", "domain": [{"year": 2023, "month": 12, "date": 1, "utc": true}, {"year": 2025, "month": 12, "date": 23, "utc": true}]}, "axis": null},
  "y": {"datum": 0, "type": "quantitative", "scale": {"domain": [0, 8], "nice": false}},
  "y2": {"datum": 8}
 }}
]
}
